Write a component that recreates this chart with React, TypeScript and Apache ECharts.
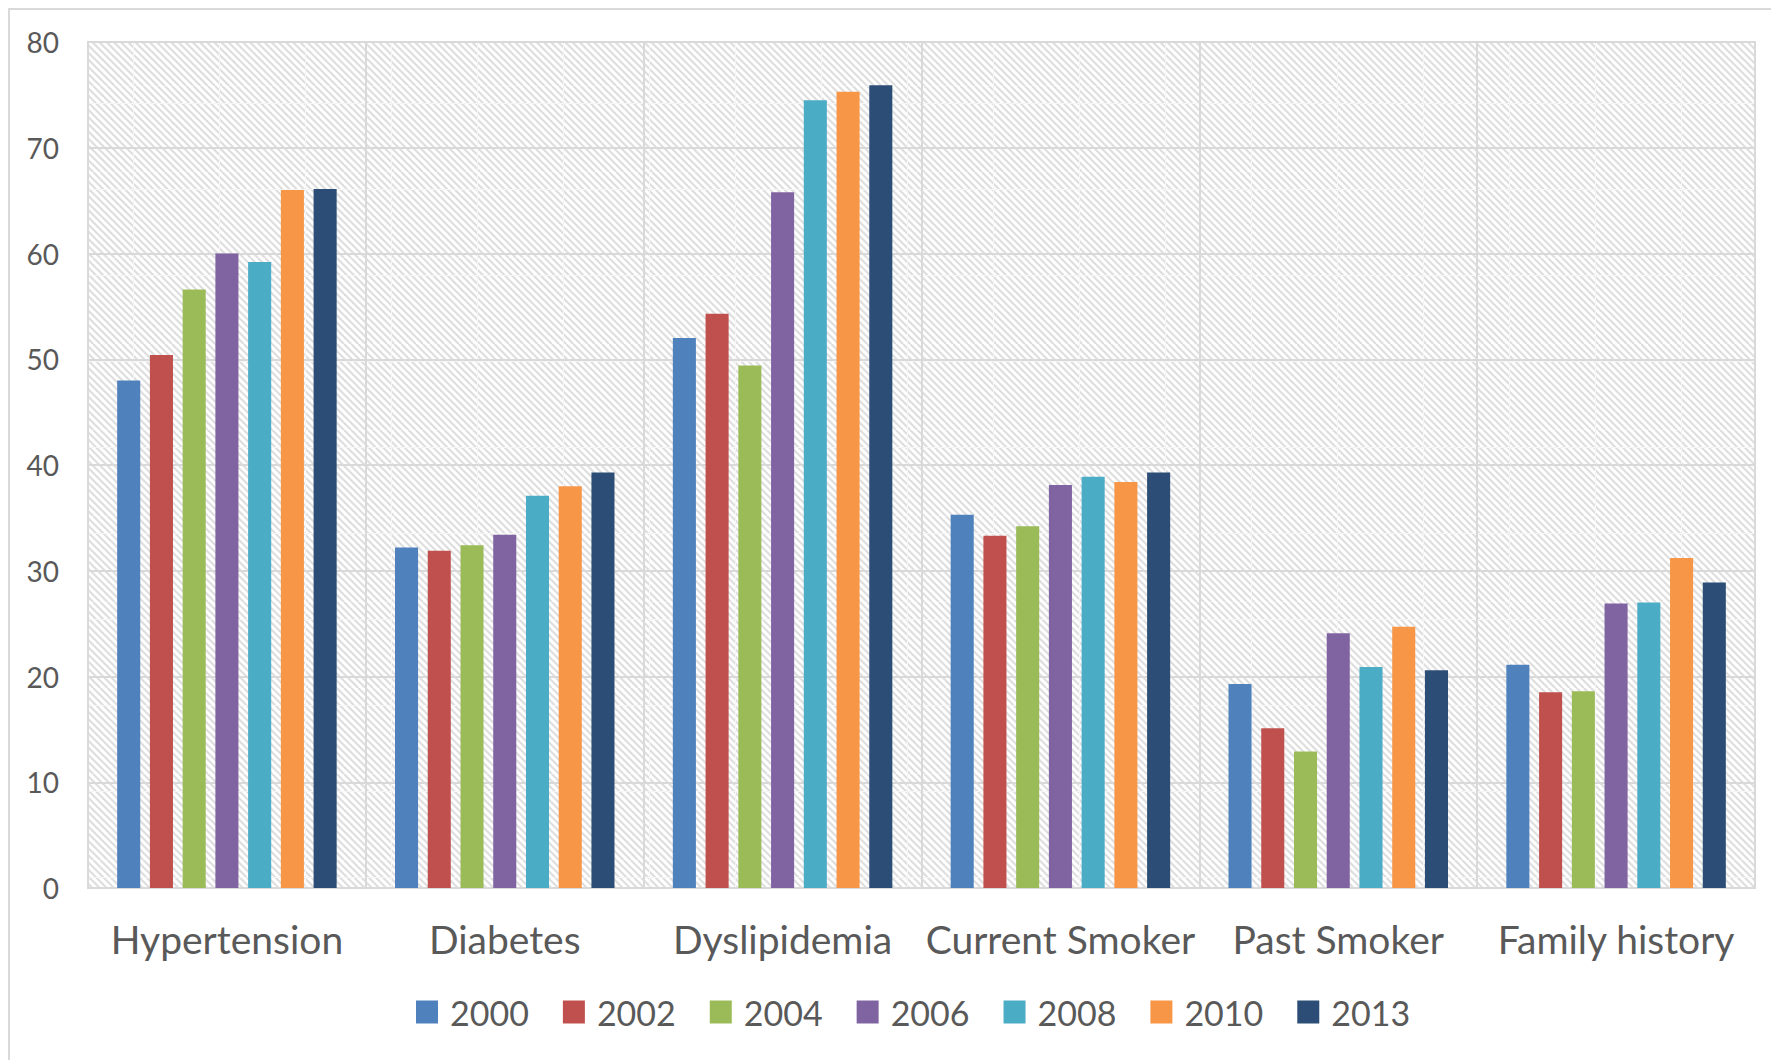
import React, { useEffect, useRef } from "react";
import * as echarts from "echarts";

const categories = ["Hypertension", "Diabetes", "Dyslipidemia", "Current Smoker", "Past Smoker", "Family history"];
const years = ["2000", "2002", "2004", "2006", "2008", "2010", "2013"];
const colors = ["#4F81BD", "#C0504D", "#9BBB59", "#8064A2", "#4BACC6", "#F79646", "#2C4D75"];

const v2000 = [48.0, 32.2, 52.0, 35.3, 19.3, 21.1];
const v2002 = [50.4, 31.9, 54.3, 33.3, 15.1, 18.5];
const v2004 = [56.6, 32.4, 49.4, 34.2, 12.9, 18.6];
const v2006 = [60.0, 33.4, 65.8, 38.1, 24.1, 26.9];
const v2008 = [59.2, 37.1, 74.5, 38.9, 20.9, 27.0];
const v2010 = [66.0, 38.0, 75.3, 38.4, 24.7, 31.2];
const v2013 = [66.1, 39.3, 75.9, 39.3, 20.6, 28.9];
const seriesValues = [v2000, v2002, v2004, v2006, v2008, v2010, v2013];

const yMin = 0;
const yMax = 80;
const yStep = 10;

function hatchTile(): string {
  const n = 86;
  const p = n / 12;
  let lines = "";
  for (let k = -12; k <= 12; k++) {
    const x0 = k * p;
    lines += `<line x1="${x0}" y1="0" x2="${x0 + n}" y2="${n}"/>`;
  }
  const svg =
    `<svg xmlns="http://www.w3.org/2000/svg" width="${n}" height="${n}">` +
    `<rect width="${n}" height="${n}" fill="#ffffff"/>` +
    `<g stroke="#dedede" stroke-width="2.1">${lines}</g>` +
    `<rect x="47" y="0" width="1" height="${n}" fill="#f6f6f6"/>` +
    `<rect x="0" y="17" width="${n}" height="1" fill="#f6f6f6"/>` +
    `</svg>`;
  return "data:image/svg+xml;base64," + btoa(svg);
}

export default function App() {
  const ref = useRef<HTMLDivElement>(null);
  useEffect(() => {
    document.body.style.margin = "0";
    document.body.style.overflow = "hidden";
    if (!ref.current) return;
    const chart = echarts.init(ref.current, null, { renderer: "svg" });
    const font = "Lato";
    const textColor = "#595959";
    const gridColor = "#d9d9d9";

    chart.setOption({
      animation: false,
      backgroundColor: "#ffffff",
      legend: {
        data: years,
        left: 416,
        top: 995,
        padding: 0,
        orient: "horizontal",
        itemWidth: 22,
        itemHeight: 23,
        itemGap: 34,
        icon: "rect",
        selectedMode: false,
        textStyle: {
          color: textColor,
          fontFamily: font,
          fontSize: 34,
          padding: [0, 0, 0, 7],
        },
      },
      grid: {
        left: 88,
        right: 16,
        top: 42,
        bottom: 172,
        show: true,
        backgroundColor: {
          image: hatchTile(),
          repeat: "repeat",
          imageWidth: 86,
          imageHeight: 86,
        },
        borderColor: gridColor,
        borderWidth: 2,
      },
      xAxis: {
        type: "category",
        data: categories,
        axisTick: { show: false },
        axisLine: { lineStyle: { color: gridColor, width: 2 } },
        splitLine: { show: true, lineStyle: { color: gridColor, width: 2 } },
        axisLabel: {
          color: textColor,
          fontFamily: font,
          fontSize: 39,
          margin: 31,
          interval: 0,
        },
      },
      yAxis: {
        type: "value",
        min: yMin,
        max: yMax,
        interval: yStep,
        axisLine: { show: false },
        axisTick: { show: false },
        splitLine: { lineStyle: { color: gridColor, width: 2 } },
        axisLabel: { color: textColor, fontFamily: font, fontSize: 28, margin: 29 },
      },
      series: years.map((y, i) => ({
        name: y,
        type: "bar",
        data: seriesValues[i],
        barGap: "42%",
        barCategoryGap: "21%",
        itemStyle: { color: colors[i] },
      })),
      graphic: [
        {
          type: "rect",
          shape: { x: 9, y: 9, width: 1800, height: 1100 },
          style: { fill: "none", stroke: gridColor, lineWidth: 2 },
          silent: true,
        },
      ],
    });
    return () => chart.dispose();
  }, []);
  return <div ref={ref} style={{ width: 1771, height: 1060 }} />;
}
